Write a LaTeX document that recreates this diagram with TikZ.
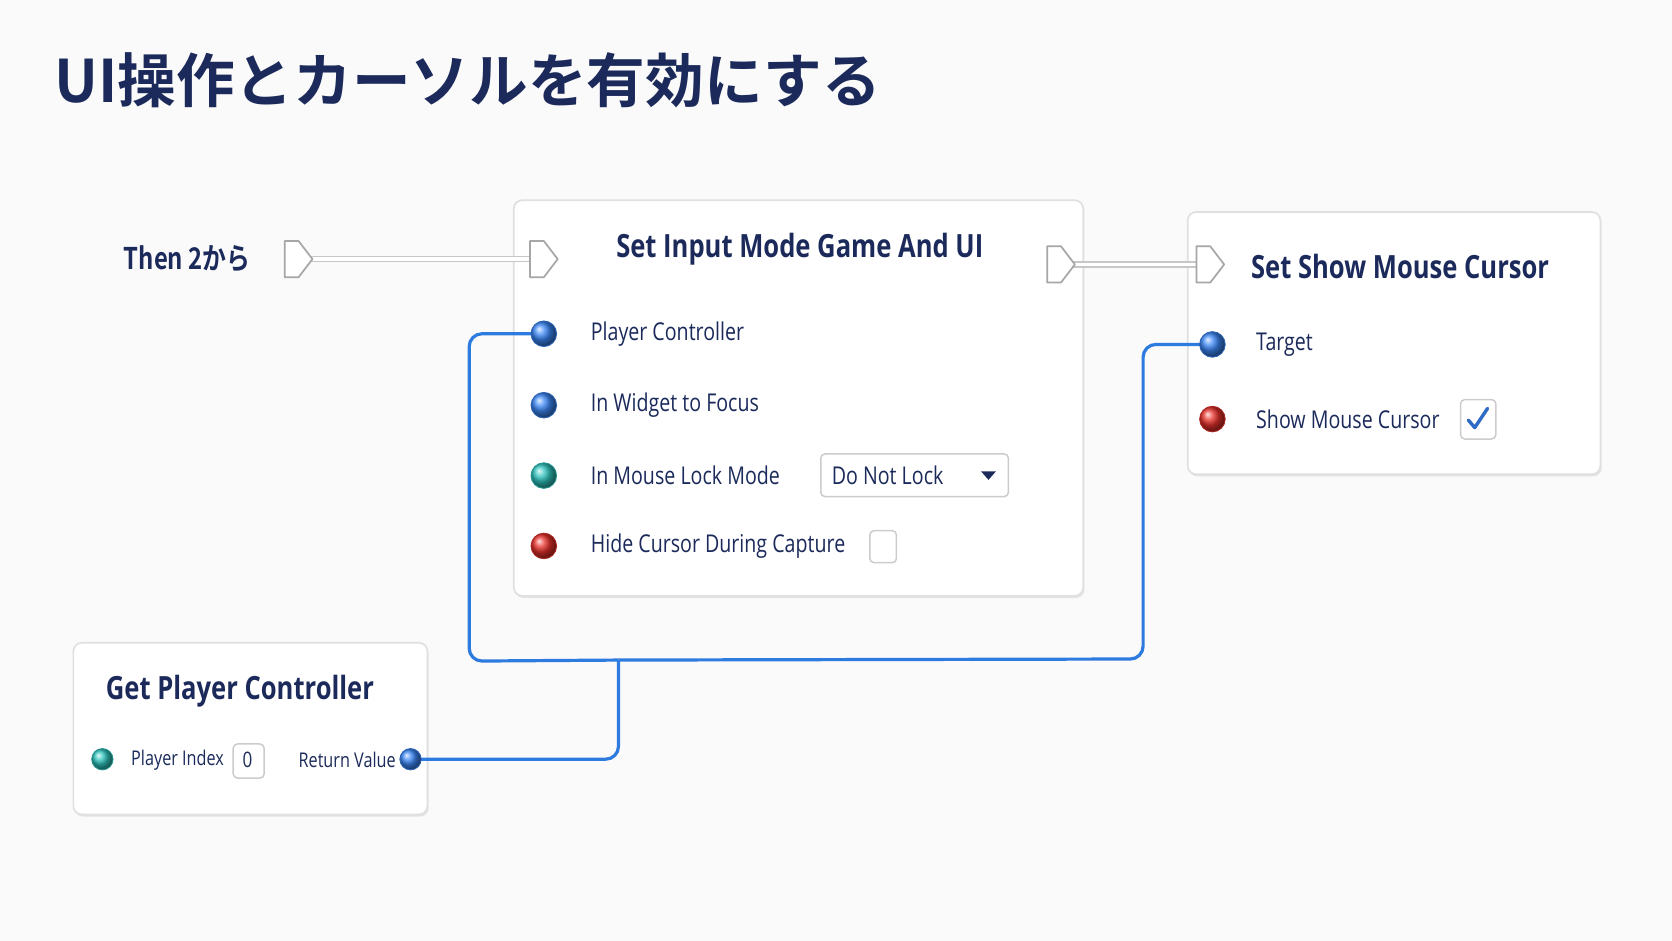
\documentclass[tikz,border=0pt]{standalone}
\usepackage{fontspec}
\setmainfont[FakeStretch=0.8]{Open Sans}
\newfontfamily\cjk[BoldFont={Noto Sans CJK JP Bold}]{Noto Sans CJK JP}
\newfontfamily\mix[FakeStretch=0.8,BoldFont={Noto Sans CJK JP Bold}]{Noto Sans CJK JP}
\usetikzlibrary{shadows}
\definecolor{navy}{HTML}{1B2A5A}
\definecolor{wire}{HTML}{2E7BE0}
\definecolor{pblue}{HTML}{3A86F5}
\definecolor{pteal}{HTML}{2EC4BE}
\definecolor{pred}{HTML}{E8302A}
\begin{document}
\begin{tikzpicture}[x=0.5pt,y=-0.5pt,
  box/.style={draw=black!12,line width=0.8pt,fill=white,rounded corners=4pt,drop shadow={shadow xshift=0.6pt,shadow yshift=-1pt,opacity=0.18}},
  pin/.style={circle,minimum size=12pt,inner sep=0,draw=#1!75!black,line width=0.4pt,ball color=#1,shading=ball},
  exec/.style={draw=black!35,fill=white,line width=0.8pt,line join=round},
  lbl/.style={anchor=west,text=navy,font=\fontsize{11.5}{12}\selectfont},
  ttl/.style={text=navy,font=\fontsize{15}{15}\selectfont\bfseries},
  wirel/.style={draw=wire,line width=1.5pt,rounded corners=6pt},
  chk/.style={draw=black!20,line width=0.7pt,rounded corners=2pt,fill=white}]
\fill[black!2] (0,0) rectangle (1568,882);
\useasboundingbox (0,0) rectangle (1568,882);
\node[anchor=west,text=navy,font=\cjk\bfseries\fontsize{27.5}{27}\selectfont] (title) at (44,75) {UI操作とカーソルを有効にする};
\node[box,minimum width=267pt,minimum height=185.5pt,anchor=north west] (n1) at (481,187) {};
\node[box,minimum width=193.5pt,minimum height=123pt,anchor=north west] (n2) at (1113,198) {};
\node[box,minimum width=166pt,minimum height=80.5pt,anchor=north west] (n3) at (68,602) {};
\node[ttl] (t1) at (750,234) {Set Input Mode Game And UI};
\node[ttl] (t2) at (1313,250) {Set Show Mouse Cursor};
\node[ttl] (t3) at (225,648) {Get Player Controller};
\node[anchor=east,text=navy,font=\mix\bfseries\fontsize{14}{14}\selectfont] (then) at (242,243) {Then 2から};
\newcommand{\execpin}[3]{\coordinate (#1) at (#2,#3);
 \draw[exec] (#2-13,#3-17) -- (#2,#3-17) -- (#2+13,#3) -- (#2,#3+17) -- (#2-13,#3+17) -- cycle;}
\draw[black!22,line width=3pt] (280,243) -- (510,243);
\draw[white,line width=1.6pt] (280,243) -- (510,243);
\draw[black!22,line width=3pt] (995,248) -- (1135,248);
\draw[white,line width=1.6pt] (995,248) -- (1135,248);
\execpin{e0}{280}{243}
\execpin{e1}{510}{243}
\execpin{e2}{995}{248}
\execpin{e3}{1135}{248}
\coordinate (j) at (580,619);
\draw[wirel] (385,712) -- (580,712) -- (j);
\draw[wirel] (j) -- (440,620) -- (440,313) -- (510,313);
\draw[wirel] (j) -- (1072,618) -- (1072,323) -- (1137,323);
\node[pin=pblue] (pc) at (510,313) {};
\node[lbl] at (547,313) {Player Controller};
\node[pin=pblue] (wf) at (510,380) {};
\node[lbl] at (547,380) {In Widget to Focus};
\node[pin=pteal] (ml) at (510,446) {};
\node[lbl] at (547,446) {In Mouse Lock Mode};
\node[chk,minimum width=88pt,minimum height=20pt,anchor=north west] (dd) at (769,425) {};
\node[lbl] at (773,446) {Do Not Lock};
\fill[navy] (920,442) -- (934,442) -- (927,450) -- cycle;
\node[pin=pred] (hc) at (510,512) {};
\node[lbl] at (547,512) {Hide Cursor During Capture};
\node[chk,minimum width=12.5pt,minimum height=15pt,anchor=north west] (cb1) at (815,497) {};
\node[pin=pblue] (tg) at (1137,323) {};
\node[lbl] at (1171,323) {Target};
\node[pin=pred] (sm) at (1137,393) {};
\node[lbl] at (1171,393) {Show Mouse Cursor};
\node[chk,minimum width=16.5pt,minimum height=18.5pt,anchor=north west] (cb2) at (1369,374) {};
\draw[pblue!80!black,line width=1.6pt,line cap=round,line join=round] (1377,394) -- (1383,401) -- (1395,383);
\node[pin=pteal,minimum size=10pt] (pi) at (96,712) {};
\node[lbl,font=\fontsize{9.5}{10}\selectfont] at (116,713) {Player Index};
\node[chk,minimum width=14.5pt,minimum height=16pt,anchor=north west] (zb) at (218,697) {};
\node[text=navy,font=\fontsize{10}{10}\selectfont] at (232,713) {0};
\node[lbl,font=\fontsize{9.5}{10}\selectfont] at (273,713) {Return Value};
\node[pin=pblue,minimum size=10pt] (rv) at (385,712) {};
\end{tikzpicture}
\end{document}
